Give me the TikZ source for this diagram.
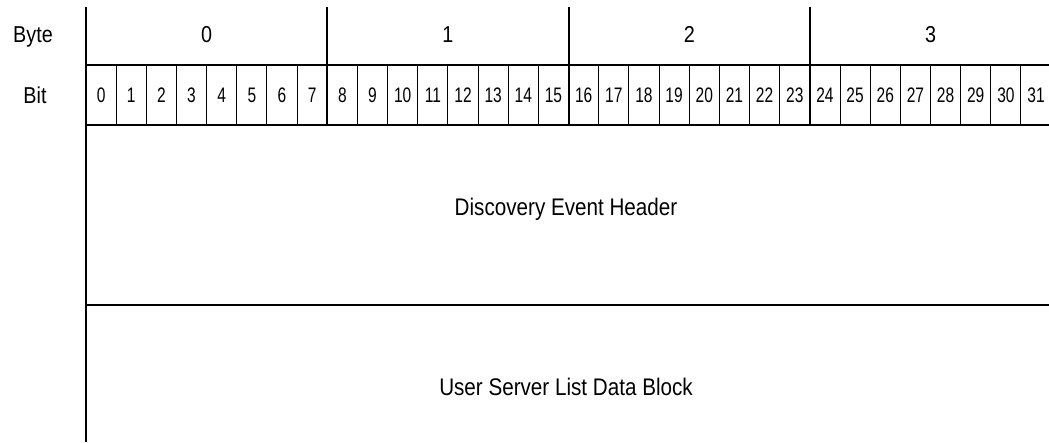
\documentclass[tikz,border=0pt]{standalone}
\usepackage{fontspec}
\setmainfont{Liberation Sans}[FakeStretch=0.86]
\newfontfamily\bitfont{Liberation Sans}[FakeStretch=0.74]
\usetikzlibrary{positioning}

\begin{document}
\begin{tikzpicture}[
  x=1pt, y=-1pt,
  rule/.style={line width=2pt},
  thinrule/.style={line width=1pt},
  rowname/.style={font=\fontsize{23}{27}\selectfont, anchor=base, inner sep=0pt},
  bytenum/.style={font=\fontsize{23}{27}\selectfont, anchor=base, inner sep=0pt},
  bitnum/.style={font=\bitfont\fontsize{21}{25}\selectfont, anchor=base, inner sep=0pt},
  field/.style={font=\fontsize{24}{28}\selectfont, anchor=base, inner sep=0pt},
]
\useasboundingbox (0,0) rectangle (1049,442);

% row names
\node[rowname] (byte) at (33,42)  {Byte};
\node[rowname] (bit)  at (35,103) {Bit};

% bit cells
\foreach \i in {1,...,31}{ \draw[thinrule] ({86+30.16*\i},65) -- ({86+30.16*\i},125); }
\foreach \i in {0,...,31}{
  \node[bitnum] (b\i) at ({86+30.16*(\i+0.5)},102) {\i};
}

% byte cells
\foreach \k in {0,...,3}{
  \draw[rule] ({86+241.3*\k},7) -- ({86+241.3*\k},125);
  \node[bytenum] (B\k) at ({86+241.3*(\k+0.5)},42) {\k};
}

% frame
\draw[rule] (86,7) -- (86,442);
\draw[rule] (86,65) -- (1049,65);
\draw[rule] (86,125) -- (1049,125);
\draw[rule] (86,305) -- (1049,305);

% fields
\node[field] (header) at (566,215) {Discovery Event Header};
\node[field] (userlist) at (566,395) {User Server List Data Block};

\end{tikzpicture}
\end{document}
